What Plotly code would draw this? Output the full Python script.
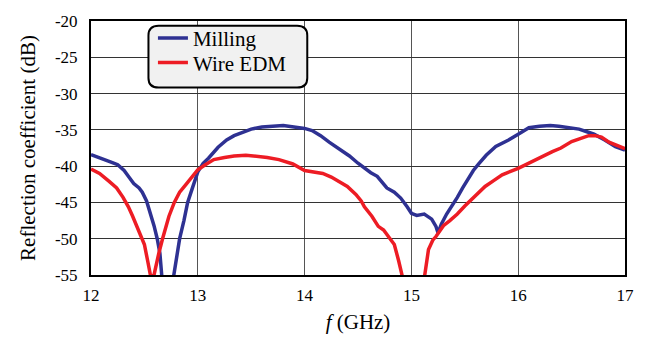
import plotly.graph_objects as go

# Reflection coefficient vs frequency for two fabrication methods
milling_f = [12.00, 12.06, 12.12, 12.20, 12.25, 12.31, 12.36, 12.40, 12.45, 12.48,
             12.52, 12.55, 12.59, 12.62, 12.645, 12.665, 12.72, 12.77, 12.80, 12.83,
             12.87, 12.905, 12.95, 13.00, 13.05, 13.10, 13.19, 13.27, 13.34, 13.42,
             13.50, 13.60, 13.70, 13.80, 13.90, 14.00, 14.07, 14.15, 14.23, 14.32,
             14.42, 14.50, 14.56, 14.62, 14.68, 14.73, 14.77, 14.84, 14.90, 14.96,
             15.00, 15.05, 15.12, 15.19, 15.23, 15.25, 15.28, 15.33, 15.38, 15.43,
             15.48, 15.52, 15.58, 15.63, 15.70, 15.79, 15.85, 15.91, 16.00, 16.10,
             16.20, 16.30, 16.38, 16.47, 16.57, 16.65, 16.71, 16.81, 16.91, 17.00]
milling_db = [-38.4, -38.7, -39.1, -39.5, -39.8, -40.6, -41.6, -42.4, -43.0, -43.6,
              -44.8, -46.2, -48.2, -50.0, -52.0, -55.5, -60.0, -55.5, -52.5, -50.0,
              -47.5, -45.0, -43.0, -40.8, -39.6, -38.9, -37.4, -36.4, -35.8, -35.3,
              -34.9, -34.6, -34.5, -34.4, -34.6, -34.8, -35.1, -35.8, -36.7, -37.6,
              -38.6, -39.6, -40.3, -40.9, -41.4, -42.3, -43.0, -43.6, -44.4, -45.6,
              -46.5, -46.8, -46.6, -47.3, -48.3, -49.2, -48.0, -46.6, -45.5, -44.3,
              -43.0, -42.0, -40.6, -39.7, -38.5, -37.3, -36.9, -36.4, -35.6, -34.7,
              -34.5, -34.4, -34.5, -34.7, -34.9, -35.3, -35.6, -36.4, -37.3, -37.8]

edm_f = [12.00, 12.08, 12.17, 12.24, 12.30, 12.35, 12.39, 12.43, 12.45, 12.50,
         12.53, 12.56, 12.59, 12.61, 12.635, 12.67, 12.70, 12.73, 12.78, 12.83,
         12.89, 12.95, 13.00, 13.07, 13.15, 13.25, 13.34, 13.45, 13.55, 13.65,
         13.76, 13.89, 14.00, 14.08, 14.17, 14.25, 14.32, 14.40, 14.48, 14.53,
         14.56, 14.63, 14.69, 14.74, 14.80, 14.84, 14.88, 14.92, 15.02, 15.12,
         15.16, 15.20, 15.23, 15.30, 15.36, 15.43, 15.50, 15.58, 15.69, 15.77,
         15.85, 16.00, 16.08, 16.16, 16.24, 16.32, 16.40, 16.50, 16.58, 16.66,
         16.72, 16.78, 16.85, 16.92, 17.00]
edm_db = [-40.4, -41.0, -42.1, -43.0, -44.3, -45.6, -46.9, -48.3, -49.1, -50.8,
          -53.0, -55.3, -55.0, -53.4, -52.0, -50.0, -48.2, -46.9, -45.0, -43.6,
          -42.5, -41.4, -40.5, -39.8, -39.1, -38.8, -38.6, -38.5, -38.6, -38.8,
          -39.1, -39.7, -40.6, -40.8, -41.0, -41.5, -42.1, -42.8, -43.9, -44.8,
          -45.6, -46.9, -48.3, -48.8, -50.0, -50.8, -53.0, -55.5, -60.0, -55.5,
          -51.5, -50.2, -49.7, -48.2, -47.5, -46.6, -45.5, -44.3, -42.8, -42.0,
          -41.2, -40.3, -39.7, -39.1, -38.6, -38.0, -37.5, -36.6, -36.2, -35.8,
          -35.8, -36.0, -36.7, -37.1, -37.6]

x_ticks = [12, 13, 14, 15, 16, 17]
y_ticks = [-20, -25, -30, -35, -40, -45, -50, -55]
y_tick_text = ["-20", "-25", "-30", "-35", "-40", "-45", "-50", "-55"]

SERIF = "Liberation Serif, Times New Roman, serif"
BLUE = "#2e3192"
RED = "#ed1c24"

fig = go.Figure()
fig.add_trace(go.Scatter(x=milling_f, y=milling_db, mode="lines", name="Milling",
                         line=dict(color=BLUE, width=3.5), legend="legend"))
fig.add_trace(go.Scatter(x=edm_f, y=edm_db, mode="lines", name="Wire EDM",
                         line=dict(color=RED, width=3.5), legend="legend2"))

# rounded legend frame (paper coordinates)
x0, x1, y0, y1 = 0.1076, 0.405, 0.738, 0.981
rx, ry = 0.019, 0.038
path = (f"M {x0+rx},{y1} L {x1-rx},{y1} Q {x1},{y1} {x1},{y1-ry} "
        f"L {x1},{y0+ry} Q {x1},{y0} {x1-rx},{y0} "
        f"L {x0+rx},{y0} Q {x0},{y0} {x0},{y0+ry} "
        f"L {x0},{y1-ry} Q {x0},{y1} {x0+rx},{y1} Z")
fig.add_shape(type="path", path=path, xref="paper", yref="paper",
              fillcolor="#f1f1f1", line=dict(color="black", width=2), layer="above")

legend_style = dict(xanchor="left", yanchor="middle",
                    bgcolor="rgba(0,0,0,0)", borderwidth=0,
                    font=dict(family=SERIF, size=21, color="black"),
                    itemwidth=30)

fig.update_layout(
    width=646, height=342,
    margin=dict(l=91, r=20, t=14, b=61),
    paper_bgcolor="white", plot_bgcolor="white",
    font=dict(family=SERIF, size=16, color="black"),
    showlegend=True,
    legend=dict(x=0.116, y=0.932, **legend_style),
    legend2=dict(x=0.116, y=0.835, **legend_style),
    xaxis=dict(range=[12, 17], tickvals=x_ticks, showgrid=True,
               gridcolor="#555555", gridwidth=1.2, zeroline=False,
               showline=True, linecolor="black", linewidth=2, mirror=True,
               ticks="", ticklabelstandoff=4,
               tickfont=dict(family=SERIF, size=17),
               title=dict(text="<i>f</i> (GHz)", font=dict(family=SERIF, size=21),
                          standoff=10)),
    yaxis=dict(range=[-55, -20], tickvals=y_ticks, ticktext=y_tick_text,
               showgrid=True, gridcolor="#333333", gridwidth=1.2, zeroline=False,
               showline=True, linecolor="black", linewidth=2, mirror=True,
               ticks="", ticklabelstandoff=8,
               tickfont=dict(family=SERIF, size=17),
               title=dict(text="Reflection coefficient (dB)",
                          font=dict(family=SERIF, size=21), standoff=14)),
)

fig.write_html("out.html")
